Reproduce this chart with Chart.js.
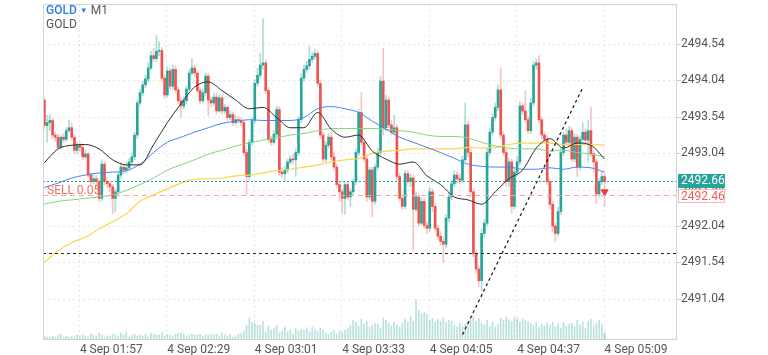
<!DOCTYPE html>
<html><head><meta charset="utf-8">
<script src="https://cdn.jsdelivr.net/npm/chart.js@4.4.1/dist/chart.umd.min.js"></script>
<style>
html,body{margin:0;padding:0;background:#fff;}
#wrap{position:relative;width:768px;height:355px;overflow:hidden;}
#c{position:absolute;left:0;top:0;}
.lbl{position:absolute;font-family:Roboto,sans-serif;font-size:12px;line-height:14px;white-space:nowrap;}
</style></head><body>
<div id="wrap"><canvas id="c" width="768" height="355"></canvas>
<div class="lbl" style="left:46px;top:3px;color:#2d7fe6;font-weight:500">GOLD <span style="font-size:8px;vertical-align:1px">▼</span> <span style="color:#555;font-weight:400">M1</span></div>
<div class="lbl" style="left:46px;top:17px;color:#555">GOLD</div>
</div>
<script>
// ---------- DATA ----------
const tickIdx = [13,45,77,109,141,173,205];
const tickText = ['4 Sep 01:57','4 Sep 02:29','4 Sep 03:01','4 Sep 03:33','4 Sep 04:05','4 Sep 04:37','4 Sep 05:09'];
const yTickVals = [2491.04,2491.54,2492.04,2492.54,2493.04,2493.54,2494.04,2494.54];
const bidPrice = [2492.66];
const sellPrice = [2492.46];
const levelPrice = [2491.67];
const trendIdx = [153,197];
const trendVals = [2490.55,2493.94];
const sellMarker = [205, 2492.51];

const opens = [2493.77,2493.42,2493.46,2493.49,2493.29,2493.26,2493.12,2493.26,2493.23,2493.35,
2493.39,2493.26,2493.08,2493.15,2493.12,2492.99,2493.03,2492.74,2492.65,2492.69,
2492.65,2492.42,2492.89,2492.65,2492.62,2492.58,2492.42,2492.51,2492.74,2492.85,
2492.81,2492.84,2492.92,2492.99,2493.29,2493.73,2493.87,2493.98,2494.06,2494.21,
2494.38,2494.34,2494.44,2494.45,2494.07,2493.84,2494.17,2493.96,2494.19,2493.91,
2493.76,2493.69,2493.76,2493.92,2494.14,2494.21,2494.14,2493.90,2493.76,2493.87,
2494.10,2493.77,2493.73,2493.81,2493.62,2493.80,2493.62,2493.67,2493.53,2493.57,
2493.46,2493.50,2493.49,2493.46,2493.05,2492.72,2493.19,2493.49,2494.00,2494.11,
2494.25,2494.28,2493.90,2493.23,2493.19,2493.30,2493.64,2492.78,2492.76,2492.81,
2492.92,2492.96,2492.95,2493.05,2493.50,2494.07,2494.19,2494.24,2494.33,2494.37,
2494.41,2494.00,2493.29,2492.96,2493.15,2493.26,2492.99,2492.85,2492.61,2492.51,
2492.42,2492.61,2492.44,2492.51,2492.65,2493.05,2493.60,2493.19,2492.96,2492.44,
2492.81,2492.38,2492.85,2493.05,2494.03,2493.39,2493.77,2493.43,2493.33,2493.39,
2492.72,2492.42,2492.31,2492.76,2492.65,2492.70,2492.27,2492.44,2492.08,2492.38,
2492.05,2492.01,2492.51,2492.31,2492.01,2491.90,2491.83,2491.79,2492.15,2492.44,
2492.62,2492.74,2492.69,2492.67,2492.95,2493.43,2493.05,2492.51,2491.66,2491.45,
2491.29,2491.94,2492.08,2493.05,2493.33,2493.53,2493.67,2493.91,2493.29,2493.05,
2492.65,2492.92,2492.31,2492.78,2492.92,2493.69,2493.62,2493.50,2493.35,2493.73,
2494.25,2494.28,2493.50,2493.29,2493.23,2492.65,2492.34,2492.04,2491.94,2492.24,
2493.05,2493.29,2493.19,2493.35,2492.96,2493.26,2492.85,2493.23,2493.33,2493.22,
2493.35,2493.03,2492.92,2492.48,2492.65,2492.72];

const highs = [2493.80,2493.56,2493.57,2493.52,2493.33,2493.30,2493.29,2493.31,2493.39,2493.49,
2493.45,2493.29,2493.19,2493.18,2493.15,2493.08,2493.05,2492.78,2492.76,2492.73,
2492.69,2492.95,2492.92,2492.70,2492.66,2492.61,2492.55,2492.78,2492.91,2492.89,
2492.92,2492.97,2493.05,2493.33,2493.77,2493.92,2494.03,2494.11,2494.28,2494.44,
2494.48,2494.66,2494.57,2494.49,2494.11,2494.22,2494.21,2494.25,2494.24,2493.95,
2493.80,2493.81,2493.96,2494.19,2494.34,2494.25,2494.18,2493.94,2493.92,2494.14,
2494.14,2493.81,2493.86,2493.87,2493.84,2493.83,2493.71,2493.69,2493.62,2493.61,
2493.56,2493.54,2493.53,2493.49,2493.10,2493.23,2493.53,2494.05,2494.21,2494.41,
2494.89,2494.32,2493.94,2493.27,2493.35,2493.69,2493.68,2492.84,2492.86,2492.96,
2493.01,2493.03,2493.10,2493.54,2494.13,2494.25,2494.30,2494.51,2494.43,2494.47,
2494.45,2494.05,2493.33,2493.20,2493.31,2493.33,2493.05,2492.89,2492.65,2492.55,
2492.65,2492.65,2492.55,2492.69,2493.10,2493.65,2493.87,2493.23,2492.99,2492.85,
2492.85,2492.89,2493.11,2494.09,2494.48,2493.84,2493.81,2493.49,2493.56,2493.43,
2492.76,2492.47,2492.81,2492.80,2492.76,2492.74,2492.51,2492.48,2492.43,2492.42,
2492.10,2492.57,2492.55,2492.35,2492.05,2491.96,2491.89,2492.20,2492.50,2492.67,
2492.80,2492.78,2492.76,2493.00,2493.73,2493.48,2493.10,2492.55,2491.70,2491.49,
2492.00,2492.13,2493.11,2493.38,2493.58,2493.73,2493.98,2494.21,2493.33,2493.10,
2492.97,2492.96,2492.84,2492.99,2493.75,2493.73,2493.90,2493.54,2493.79,2494.30,
2494.33,2494.38,2493.54,2493.33,2493.27,2492.69,2492.38,2492.08,2492.30,2493.11,
2493.33,2493.37,2493.41,2493.39,2493.31,2493.30,2493.27,2493.46,2493.37,2493.49,
2493.67,2493.07,2492.96,2492.69,2492.78,2492.76];

const lows = [2493.38,2493.19,2493.35,2493.24,2493.20,2493.10,2493.10,2493.19,2493.20,2493.33,
2493.22,2493.04,2493.03,2493.07,2492.95,2492.96,2492.70,2492.61,2492.62,2492.58,
2492.38,2492.39,2492.61,2492.57,2492.51,2492.21,2492.24,2492.46,2492.70,2492.76,
2492.77,2492.80,2492.89,2492.95,2493.24,2493.69,2493.83,2493.94,2494.02,2494.18,
2494.30,2494.30,2494.38,2494.03,2493.79,2493.81,2493.92,2493.92,2493.87,2493.72,
2493.53,2493.65,2493.72,2493.90,2494.11,2494.09,2493.87,2493.72,2493.73,2493.83,
2493.56,2493.68,2493.69,2493.58,2493.60,2493.58,2493.58,2493.49,2493.50,2493.42,
2493.43,2493.45,2493.42,2493.01,2492.47,2492.67,2493.15,2493.45,2493.96,2494.07,
2494.19,2493.86,2493.19,2493.15,2493.16,2493.26,2492.74,2492.70,2492.65,2492.77,
2492.89,2492.89,2492.72,2493.01,2493.46,2494.03,2494.15,2494.19,2494.29,2494.33,
2493.96,2493.24,2492.92,2492.92,2493.11,2492.95,2492.81,2492.57,2492.38,2492.21,
2492.20,2492.40,2492.31,2492.47,2492.61,2493.01,2493.15,2492.92,2492.38,2492.40,
2492.17,2492.34,2492.81,2493.01,2493.29,2493.35,2493.39,2493.29,2493.30,2492.67,
2492.38,2492.27,2492.28,2492.61,2492.58,2491.70,2492.24,2492.04,2492.05,2492.01,
2491.94,2491.97,2492.24,2491.97,2491.86,2491.78,2491.54,2491.74,2492.10,2492.40,
2492.58,2492.63,2492.62,2492.63,2492.92,2492.99,2492.44,2491.62,2491.40,2491.22,
2491.15,2491.89,2492.04,2493.01,2493.29,2493.49,2493.62,2493.24,2493.01,2492.59,
2492.58,2492.21,2492.27,2492.73,2492.88,2493.57,2493.46,2493.31,2493.31,2493.69,
2494.19,2493.46,2493.24,2493.19,2492.61,2492.28,2491.97,2491.83,2491.90,2492.20,
2493.01,2493.15,2493.15,2492.92,2492.92,2492.72,2492.81,2493.19,2493.16,2492.92,
2492.99,2492.78,2492.35,2492.44,2492.61,2492.31];

const closes = [2493.42,2493.46,2493.49,2493.29,2493.26,2493.12,2493.26,2493.23,2493.35,2493.39,
2493.26,2493.08,2493.15,2493.12,2492.99,2493.03,2492.74,2492.65,2492.69,2492.65,
2492.42,2492.89,2492.65,2492.62,2492.58,2492.42,2492.51,2492.74,2492.85,2492.81,
2492.84,2492.92,2492.99,2493.29,2493.73,2493.87,2493.98,2494.06,2494.21,2494.38,
2494.34,2494.44,2494.45,2494.07,2493.84,2494.17,2493.96,2494.19,2493.91,2493.76,
2493.69,2493.76,2493.92,2494.14,2494.21,2494.14,2493.90,2493.76,2493.87,2494.10,
2493.77,2493.73,2493.81,2493.62,2493.80,2493.62,2493.67,2493.53,2493.57,2493.46,
2493.50,2493.49,2493.46,2493.05,2492.72,2493.19,2493.49,2494.00,2494.11,2494.25,
2494.28,2493.90,2493.23,2493.19,2493.30,2493.64,2492.78,2492.76,2492.81,2492.92,
2492.96,2492.95,2493.05,2493.50,2494.07,2494.19,2494.24,2494.33,2494.37,2494.41,
2494.00,2493.29,2492.96,2493.15,2493.26,2492.99,2492.85,2492.61,2492.51,2492.42,
2492.61,2492.44,2492.51,2492.65,2493.05,2493.60,2493.19,2492.96,2492.44,2492.81,
2492.38,2492.85,2493.05,2494.03,2493.39,2493.77,2493.43,2493.33,2493.39,2492.72,
2492.42,2492.31,2492.76,2492.65,2492.70,2492.27,2492.44,2492.08,2492.38,2492.05,
2492.01,2492.51,2492.31,2492.01,2491.90,2491.83,2491.79,2492.15,2492.44,2492.62,
2492.74,2492.69,2492.67,2492.95,2493.43,2493.05,2492.51,2491.66,2491.45,2491.29,
2491.94,2492.08,2493.05,2493.33,2493.53,2493.67,2493.91,2493.29,2493.05,2492.65,
2492.92,2492.31,2492.78,2492.92,2493.69,2493.62,2493.50,2493.35,2493.73,2494.25,
2494.28,2493.50,2493.29,2493.23,2492.65,2492.34,2492.04,2491.94,2492.24,2493.05,
2493.29,2493.19,2493.35,2492.96,2493.26,2492.85,2493.23,2493.33,2493.22,2493.35,
2493.03,2492.92,2492.48,2492.65,2492.72,2492.65];

const volumes = [40,30,30,40,30,50,60,30,40,30,40,30,50,40,50,40,30,60,50,40,
70,50,30,40,40,60,50,40,70,50,80,30,50,60,40,50,40,60,30,70,
60,50,50,80,40,60,50,40,60,70,70,60,40,50,60,50,50,60,40,50,
50,60,50,60,40,70,50,40,60,30,40,60,70,
90,150,220,180,170,150,150,190,
80,140,100,120,150,70,90,130,80,100,60,120,90,110,
100,120,80,130,110,90,120,100,70,50,80,100,60,90,
80,100,120,150,200,180,140,210,160,190,130,150,170,160,120,220,200,170,140,180,150,130,170,210,180,240,190,
410,
300,270,280,260,
200,220,180,210,190,220,180,200,190,
150,130,170,140,160,
180,200,240,190,220,170,
150,200,140,180,130,160,
220,200,230,210,190,230,220,180,210,200,190,170,
150,180,130,160,140,170,150,180,130,160,120,180,140,160,170,130,
200,150,180,120,190,210,140,170,200,160,70];

// moving averages, read at every 5th candle
const maIdx = [0,5,10,15,20,25,30,35,40,45,50,55,60,65,70,75,80,85,90,95,100,105,110,115,120,125,130,135,140,145,150,155,160,165,170,175,180,185,190,195,200,205];
const maBlack = [2492.91,2493.10,2493.15,2493.16,2493.10,2492.95,2492.88,2492.88,2493.16,2493.46,2493.72,2493.95,2494.02,2493.90,2493.77,2493.65,2493.67,2493.53,2493.39,2493.39,2493.60,2493.37,2493.26,2493.29,2493.07,2492.96,2492.89,2492.92,2492.73,2492.61,2492.44,2492.40,2492.34,2492.51,2492.69,2492.81,2493.11,2493.24,2493.11,2493.18,2493.15,2492.96];
const maBlue = [2492.57,2492.63,2492.70,2492.74,2492.77,2492.78,2492.80,2492.89,2493.05,2493.19,2493.26,2493.33,2493.39,2493.45,2493.48,2493.50,2493.49,2493.49,2493.49,2493.53,2493.65,2493.68,2493.65,2493.60,2493.48,2493.37,2493.26,2493.19,2493.12,2493.05,2492.97,2492.89,2492.86,2492.85,2492.85,2492.82,2492.82,2492.84,2492.82,2492.85,2492.84,2492.78];
const maGreen = [2492.34,2492.38,2492.40,2492.42,2492.44,2492.47,2492.53,2492.61,2492.70,2492.81,2492.88,2492.95,2493.03,2493.08,2493.14,2493.18,2493.22,2493.25,2493.29,2493.31,2493.35,2493.38,2493.38,2493.38,2493.38,2493.37,2493.35,2493.33,2493.29,2493.27,2493.27,2493.25,2493.19,2493.14,2493.11,2493.10,2493.10,2493.07,2493.08,2493.05,2493.03,2492.99];
const maYellow = [2491.54,2491.70,2491.81,2491.89,2492.00,2492.10,2492.21,2492.38,2492.47,2492.55,2492.63,2492.68,2492.69,2492.70,2492.73,2492.74,2492.77,2492.80,2492.82,2492.85,2492.88,2492.92,2492.95,2492.97,2493.04,2493.07,2493.08,2493.10,2493.10,2493.10,2493.10,2493.12,2493.11,2493.12,2493.16,2493.18,2493.18,2493.18,2493.16,2493.16,2493.16,2493.15];

// ---------- BUILD ----------
const N = 232;
const labels = Array.from({length: N}, (_, i) => i);
const GREEN = '#26a69a', RED = '#ef5350';
const GREEN_W = 'rgba(38,166,154,0.38)', RED_W = 'rgba(239,83,80,0.35)';
function spread(idx, vals){ const a = new Array(N).fill(null); idx.forEach((j,k)=>{a[j]=vals[k];}); return a; }
const up = opens.map((o,i)=>closes[i] >= o);

Chart.defaults.font.family = 'Roboto, "Open Sans", sans-serif';
Chart.defaults.font.size = 12;
Chart.defaults.color = '#555';

const overlay = {
  id: 'overlay',
  beforeDatasetsDraw(chart){
    const {ctx, chartArea: ca, scales: {x, y}} = chart;
    ctx.save();
    ctx.lineWidth = 1; ctx.strokeStyle = '#e6e6e6'; ctx.setLineDash([2,3]);
    yTickVals.forEach(v => { const py = Math.round(y.getPixelForValue(v)) + 0.5;
      ctx.beginPath(); ctx.moveTo(ca.left, py); ctx.lineTo(ca.right, py); ctx.stroke(); });
    tickIdx.forEach(i => { const px = Math.round(x.getPixelForValue(i)) - 0.5;
      ctx.beginPath(); ctx.moveTo(px, ca.top); ctx.lineTo(px, ca.bottom); ctx.stroke(); });
    ctx.restore();
  },
  afterDatasetsDraw(chart){
    const {ctx, chartArea: ca, scales: {y}} = chart;
    ctx.save();
    // bid line
    let py = Math.round(y.getPixelForValue(bidPrice[0])) + 0.5;
    ctx.strokeStyle = '#26a69a'; ctx.lineWidth = 1; ctx.setLineDash([2,2]);
    ctx.beginPath(); ctx.moveTo(ca.left, py); ctx.lineTo(ca.right, py); ctx.stroke();
    // sell position line
    py = Math.round(y.getPixelForValue(sellPrice[0])) + 0.5;
    ctx.strokeStyle = '#f6a7a3'; ctx.setLineDash([5,4]);
    ctx.beginPath(); ctx.moveTo(ca.left, py); ctx.lineTo(ca.right, py); ctx.stroke();
    ctx.setLineDash([]);
    ctx.fillStyle = '#f0706b'; ctx.font = '12px Roboto, sans-serif'; ctx.textBaseline = 'alphabetic'; ctx.textAlign = 'left';
    ctx.fillText('SELL 0.05', ca.left + 4, py - 2);
    // horizontal level
    py = Math.round(y.getPixelForValue(levelPrice[0])) + 0.5;
    ctx.strokeStyle = '#222'; ctx.lineWidth = 1.2; ctx.setLineDash([3,3]);
    ctx.beginPath(); ctx.moveTo(ca.left, py); ctx.lineTo(ca.right, py); ctx.stroke();
    ctx.setLineDash([]);
    // border
    ctx.strokeStyle = '#d4d4d4'; ctx.lineWidth = 1;
    ctx.strokeRect(ca.left + 0.5, ca.top - 0.5, ca.right - ca.left - 1, ca.bottom - ca.top);
    ctx.restore();
  },
  afterDraw(chart){
    const {ctx, chartArea: ca, scales: {y}} = chart;
    ctx.save();
    ctx.strokeStyle = '#cccccc'; ctx.lineWidth = 1;
    yTickVals.forEach(v => { const py = Math.round(y.getPixelForValue(v)) + 0.5;
      ctx.beginPath(); ctx.moveTo(ca.right, py); ctx.lineTo(ca.right + 4, py); ctx.stroke(); });
    ctx.font = '12px Roboto, sans-serif'; ctx.textBaseline = 'middle'; ctx.textAlign = 'left';
    // bid tag
    let py = y.getPixelForValue(bidPrice[0]);
    ctx.fillStyle = '#26a69a'; ctx.fillRect(ca.right + 1, Math.round(py) - 7, 47, 14);
    ctx.fillStyle = '#fff'; ctx.fillText(bidPrice[0].toFixed(2), ca.right + 4, py + 0.5);
    // sell tag
    py = y.getPixelForValue(sellPrice[0]);
    ctx.fillStyle = '#fff'; ctx.fillRect(ca.right + 1, Math.round(py) - 6, 47, 14);
    ctx.strokeStyle = '#f7b4b0'; ctx.strokeRect(ca.right + 1.5, Math.round(py) - 5.5, 46, 13);
    ctx.fillStyle = '#ef5d58'; ctx.fillText(sellPrice[0].toFixed(2), ca.right + 4, py + 1.5);
    ctx.restore();
  }
};

new Chart(document.getElementById('c'), {
  type: 'bar',
  data: {
    labels,
    datasets: [
      { type:'line', label:'sell', data: spread([sellMarker[0]],[sellMarker[1]]), showLine:false,
        pointStyle:'triangle', rotation:180, pointRadius:4, pointBackgroundColor:'#f23a3a', pointBorderColor:'#f23a3a', order:0, yAxisID:'y' },
      { type:'line', label:'trend', data: spread(trendIdx, trendVals), spanGaps:true, borderColor:'#222', borderWidth:1.3,
        borderDash:[3,3], pointRadius:0, tension:0, order:0, yAxisID:'y' },
      { type:'line', label:'ma1', data: spread(maIdx, maBlack), spanGaps:true, borderColor:'#2e2e2e', borderWidth:1,
        pointRadius:0, cubicInterpolationMode:'monotone', order:1, yAxisID:'y' },
      { type:'line', label:'ma2', data: spread(maIdx, maBlue), spanGaps:true, borderColor:'#4285f4', borderWidth:1,
        pointRadius:0, cubicInterpolationMode:'monotone', order:1, yAxisID:'y' },
      { type:'line', label:'ma3', data: spread(maIdx, maGreen), spanGaps:true, borderColor:'#80d680', borderWidth:1,
        pointRadius:0, cubicInterpolationMode:'monotone', order:1, yAxisID:'y' },
      { type:'line', label:'ma4', data: spread(maIdx, maYellow), spanGaps:true, borderColor:'#fdd54e', borderWidth:1.2,
        pointRadius:0, cubicInterpolationMode:'monotone', order:1, yAxisID:'y' },
      { label:'body', data: opens.map((o,i)=>[o, closes[i]]), backgroundColor: up.map(u=>u?GREEN:RED),
        barThickness:2, minBarLength:1, grouped:false, order:2, yAxisID:'y' },
      { label:'wick', data: lows.map((l,i)=>[l, highs[i]]), backgroundColor: up.map(u=>u?GREEN_W:RED_W),
        barThickness:1, grouped:false, order:3, yAxisID:'y' },
      { label:'vol', data: volumes, backgroundColor: volumes.map((v,i)=> i===volumes.length-1 ? '#bdbdbd' : 'rgba(38,166,154,0.32)'),
        barThickness:1, grouped:false, order:4, yAxisID:'yv' }
    ]
  },
  options: {
    responsive:false, animation:false, events:[], devicePixelRatio:1,
    layout:{ padding:{ left:43, top:1, right:0, bottom:0 } },
    plugins:{ legend:{display:false}, tooltip:{enabled:false} },
    scales:{
      x:{ type:'category', offset:true,
          grid:{display:false, drawTicks:false}, border:{display:false},
          ticks:{ autoSkip:false, maxRotation:0, minRotation:0, align:'start', padding:3, color:'#555',
                  callback:(v,i)=>{ const k = tickIdx.indexOf(i); return k>=0 ? tickText[k] : ''; } },
          afterFit:s=>{ s.height = 15; s.paddingLeft = 0; s.paddingRight = 0; } },
      y:{ type:'linear', position:'right', min:2490.476, max:2495.075,
          afterBuildTicks:s=>{ s.ticks = yTickVals.map(v=>({value:v})); },
          grid:{display:false, drawTicks:false}, border:{display:false},
          ticks:{ padding:4, color:'#555', callback:v=>Number(v).toFixed(2) },
          afterFit:s=>{ s.width = 91; s.paddingTop = 0; s.paddingBottom = 0; } },
      yv:{ type:'linear', display:false, min:0, max:3390 }
    }
  },
  plugins:[overlay]
});
</script>
</body></html>
